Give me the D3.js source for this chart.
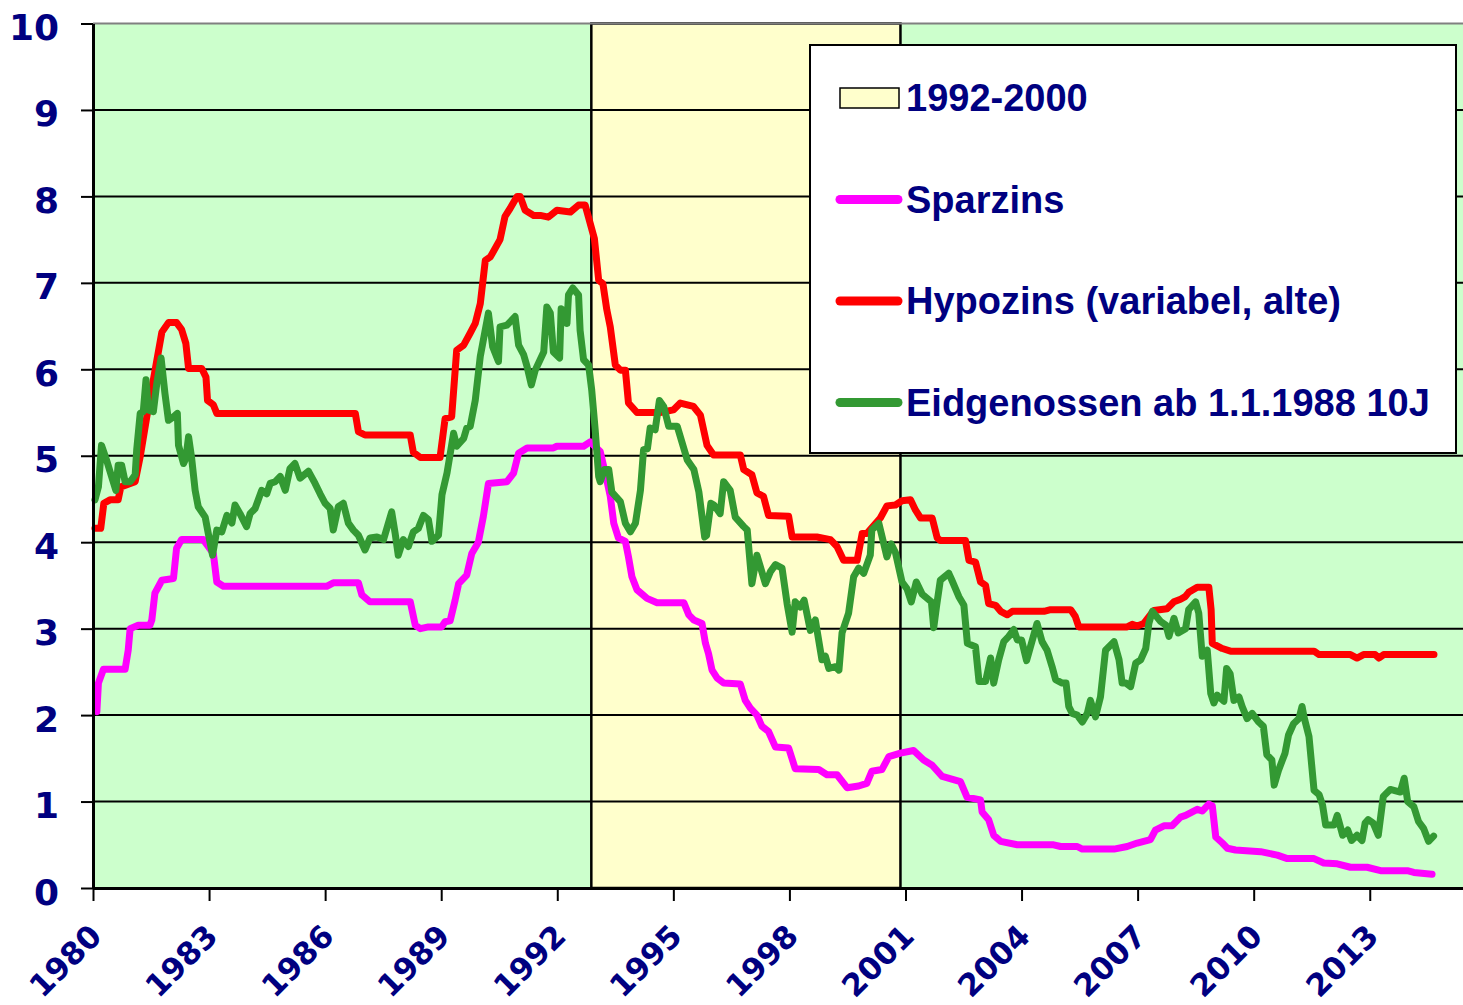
<!DOCTYPE html>
<html>
<head>
<meta charset="utf-8">
<script src="https://cdn.jsdelivr.net/npm/d3@7"></script>
<style>
  body { margin: 0; background: #fff; }
  svg { display: block; }
</style>
</head>
<body>
<div class="svg-container"></div>
<script>
// series values: [year, percent]
const sparzins = [
  [1980.1,2.04],[1980.14,2.37],[1980.27,2.53],[1980.83,2.53],[1980.91,2.75],[1980.96,3.0],[1981.17,3.04],[1981.47,3.04],
  [1981.52,3.10],[1981.6,3.41],[1981.78,3.56],[1982.08,3.58],[1982.16,3.93],[1982.29,4.03],[1982.85,4.03],[1983.11,3.87],
  [1983.2,3.54],[1983.37,3.49],[1986.04,3.49],[1986.21,3.53],[1986.86,3.53],[1986.95,3.39],[1987.16,3.31],[1988.2,3.31],
  [1988.33,3.04],[1988.46,3.0],[1988.67,3.02],[1989.01,3.02],[1989.1,3.08],[1989.23,3.09],[1989.36,3.33],[1989.45,3.52],
  [1989.66,3.62],[1989.79,3.87],[1989.96,4.0],[1990.09,4.30],[1990.22,4.68],[1990.7,4.70],[1990.87,4.80],[1991.0,5.03],
  [1991.22,5.09],[1991.9,5.09],[1991.99,5.11],[1992.68,5.11],[1992.85,5.16],[1993.11,5.05],[1993.24,4.80],[1993.37,4.53],
  [1993.46,4.22],[1993.58,4.05],[1993.76,4.01],[1993.84,3.83],[1993.93,3.60],[1994.06,3.45],[1994.32,3.35],[1994.58,3.30],
  [1995.27,3.30],[1995.4,3.16],[1995.53,3.10],[1995.74,3.06],[1995.83,2.83],[1995.91,2.71],[1996.0,2.52],[1996.13,2.43],
  [1996.3,2.37],[1996.73,2.36],[1996.86,2.17],[1996.99,2.08],[1997.16,2.0],[1997.29,1.87],[1997.46,1.81],[1997.64,1.63],
  [1997.98,1.62],[1998.15,1.38],[1998.76,1.37],[1998.97,1.31],[1999.23,1.31],[1999.49,1.16],[1999.79,1.18],[2000.0,1.21],
  [2000.13,1.35],[2000.39,1.37],[2000.57,1.52],[2000.87,1.56],[2001.21,1.59],[2001.47,1.48],[2001.69,1.42],[2001.95,1.29],
  [2002.42,1.23],[2002.59,1.05],[2002.94,1.02],[2002.98,0.88],[2003.15,0.79],[2003.28,0.61],[2003.46,0.54],[2003.89,0.50],
  [2004.83,0.50],[2005.01,0.48],[2005.44,0.48],[2005.57,0.45],[2006.39,0.45],[2006.73,0.48],[2006.99,0.52],[2007.33,0.56],
  [2007.46,0.67],[2007.68,0.72],[2007.89,0.72],[2008.11,0.82],[2008.24,0.84],[2008.54,0.91],[2008.67,0.89],[2008.84,0.97],
  [2008.93,0.95],[2009.02,0.59],[2009.19,0.52],[2009.32,0.46],[2009.53,0.44],[2010.18,0.42],[2010.61,0.38],[2010.87,0.34],
  [2011.56,0.34],[2011.81,0.29],[2012.16,0.28],[2012.5,0.24],[2012.93,0.24],[2013.28,0.20],[2013.97,0.20],[2014.14,0.18],
  [2014.61,0.16]
];

const hypozins = [
  [1980.05,4.16],[1980.2,4.16],[1980.28,4.45],[1980.44,4.49],[1980.65,4.49],[1980.72,4.64],[1981.09,4.70],[1981.22,4.99],
  [1981.39,5.45],[1981.78,6.43],[1981.95,6.54],[1982.16,6.54],[1982.29,6.46],[1982.4,6.3],[1982.47,6.01],[1982.81,6.01],
  [1982.92,5.91],[1982.96,5.64],[1983.11,5.59],[1983.2,5.49],[1986.78,5.49],[1986.86,5.28],[1987.03,5.24],[1988.2,5.24],
  [1988.28,5.04],[1988.46,4.98],[1988.97,4.98],[1989.1,5.43],[1989.27,5.45],[1989.4,6.22],[1989.58,6.28],[1989.75,6.42],
  [1989.88,6.53],[1990.01,6.76],[1990.14,7.26],[1990.27,7.30],[1990.52,7.50],[1990.65,7.77],[1990.78,7.86],[1990.96,8.0],
  [1991.04,8.0],[1991.17,7.84],[1991.39,7.78],[1991.56,7.78],[1991.77,7.76],[1991.99,7.84],[1992.34,7.82],[1992.55,7.90],
  [1992.72,7.90],[1992.85,7.69],[1992.96,7.51],[1993.07,7.03],[1993.18,6.99],[1993.28,6.69],[1993.37,6.49],[1993.5,6.05],
  [1993.63,5.99],[1993.76,5.99],[1993.84,5.61],[1994.06,5.50],[1994.66,5.50],[1995.0,5.53],[1995.18,5.61],[1995.52,5.57],
  [1995.7,5.47],[1995.87,5.12],[1996.04,5.01],[1996.73,5.01],[1996.82,4.84],[1997.03,4.78],[1997.16,4.57],[1997.33,4.53],
  [1997.46,4.31],[1997.98,4.30],[1998.07,4.06],[1998.71,4.06],[1999.06,4.03],[1999.23,3.95],[1999.4,3.79],[1999.75,3.79],
  [1999.88,4.10],[2000.0,4.10],[2000.35,4.28],[2000.52,4.42],[2000.74,4.43],[2000.91,4.48],[2001.13,4.49],[2001.26,4.37],
  [2001.39,4.28],[2001.69,4.28],[2001.82,4.05],[2001.9,4.02],[2002.55,4.02],[2002.64,3.79],[2002.81,3.77],[2002.94,3.54],
  [2003.07,3.50],[2003.15,3.29],[2003.33,3.27],[2003.46,3.20],[2003.63,3.16],[2003.76,3.20],[2004.58,3.20],[2004.75,3.22],
  [2005.27,3.22],[2005.39,3.14],[2005.48,3.02],[2006.73,3.02],[2006.86,3.05],[2006.99,3.03],[2007.16,3.06],[2007.42,3.21],
  [2007.76,3.23],[2007.94,3.31],[2008.11,3.34],[2008.23,3.37],[2008.32,3.42],[2008.54,3.48],[2008.84,3.48],[2008.9,3.22],
  [2008.93,2.83],[2009.19,2.77],[2009.4,2.74],[2011.56,2.74],[2011.69,2.70],[2012.5,2.70],[2012.67,2.66],[2012.84,2.70],
  [2013.14,2.70],[2013.24,2.66],[2013.36,2.70],[2014.66,2.70]
];

const eidgenossen = [
  [1980.05,4.49],[1980.14,4.64],[1980.22,5.12],[1980.35,4.95],[1980.48,4.76],[1980.59,4.60],[1980.65,4.89],[1980.74,4.89],
  [1980.83,4.70],[1980.96,4.70],[1981.09,4.78],[1981.13,5.07],[1981.22,5.49],[1981.3,5.51],[1981.37,5.88],[1981.43,5.53],
  [1981.56,5.51],[1981.65,5.84],[1981.76,6.13],[1981.86,5.72],[1981.95,5.41],[1982.08,5.45],[1982.18,5.49],[1982.21,5.12],
  [1982.34,4.91],[1982.4,4.97],[1982.47,5.22],[1982.55,4.97],[1982.64,4.60],[1982.72,4.41],[1982.9,4.29],[1982.98,4.10],
  [1983.09,3.85],[1983.2,4.14],[1983.33,4.12],[1983.46,4.31],[1983.59,4.22],[1983.67,4.43],[1983.8,4.33],[1983.97,4.18],
  [1984.06,4.33],[1984.19,4.39],[1984.36,4.60],[1984.49,4.56],[1984.58,4.68],[1984.71,4.70],[1984.84,4.76],[1984.97,4.60],
  [1985.09,4.85],[1985.22,4.91],[1985.35,4.74],[1985.57,4.82],[1985.74,4.68],[1985.87,4.56],[1986.0,4.45],[1986.13,4.39],
  [1986.21,4.14],[1986.34,4.41],[1986.47,4.45],[1986.6,4.22],[1986.73,4.14],[1986.86,4.08],[1987.03,3.91],[1987.16,4.05],
  [1987.34,4.06],[1987.51,4.03],[1987.72,4.35],[1987.81,4.10],[1987.89,3.85],[1988.02,4.03],[1988.15,3.95],[1988.28,4.12],
  [1988.41,4.16],[1988.54,4.31],[1988.67,4.26],[1988.76,4.01],[1988.93,4.08],[1989.02,4.55],[1989.15,4.80],[1989.32,5.26],
  [1989.4,5.11],[1989.58,5.20],[1989.66,5.32],[1989.75,5.34],[1989.88,5.64],[1990.01,6.15],[1990.22,6.65],[1990.33,6.26],
  [1990.48,6.09],[1990.52,6.49],[1990.7,6.51],[1990.91,6.61],[1991.0,6.28],[1991.13,6.17],[1991.22,6.03],[1991.33,5.82],
  [1991.43,5.99],[1991.65,6.20],[1991.73,6.72],[1991.82,6.65],[1991.9,6.20],[1992.06,6.13],[1992.1,6.70],[1992.16,6.68],
  [1992.25,6.53],[1992.29,6.86],[1992.4,6.94],[1992.55,6.86],[1992.59,6.45],[1992.68,6.11],[1992.81,6.05],[1992.89,5.76],
  [1992.98,5.30],[1993.07,4.76],[1993.11,4.70],[1993.22,4.84],[1993.33,4.84],[1993.41,4.58],[1993.63,4.47],[1993.76,4.22],
  [1993.89,4.12],[1994.02,4.22],[1994.15,4.60],[1994.23,5.07],[1994.33,5.08],[1994.4,5.32],[1994.53,5.30],[1994.64,5.64],
  [1994.75,5.57],[1994.88,5.34],[1995.1,5.34],[1995.36,4.95],[1995.53,4.84],[1995.66,4.58],[1995.81,4.06],[1995.86,4.08],
  [1995.97,4.45],[1996.05,4.43],[1996.21,4.33],[1996.3,4.70],[1996.47,4.60],[1996.6,4.29],[1996.82,4.18],[1996.91,4.14],
  [1997.03,3.52],[1997.16,3.85],[1997.38,3.52],[1997.51,3.66],[1997.64,3.74],[1997.81,3.70],[1997.94,3.29],[1998.07,2.96],
  [1998.15,3.31],[1998.28,3.25],[1998.38,3.33],[1998.54,2.98],[1998.67,3.10],[1998.84,2.64],[1998.93,2.68],[1999.02,2.54],
  [1999.19,2.56],[1999.28,2.52],[1999.36,2.95],[1999.53,3.18],[1999.66,3.60],[1999.79,3.70],[1999.92,3.64],[2000.09,3.85],
  [2000.13,4.14],[2000.31,4.22],[2000.44,3.98],[2000.52,3.83],[2000.63,3.98],[2000.74,3.88],[2000.91,3.54],[2001.04,3.46],
  [2001.15,3.31],[2001.28,3.54],[2001.43,3.40],[2001.67,3.31],[2001.73,3.01],[2001.8,3.25],[2001.9,3.56],[2002.12,3.64],
  [2002.2,3.56],[2002.38,3.37],[2002.51,3.27],[2002.6,2.83],[2002.81,2.79],[2002.9,2.39],[2003.07,2.39],[2003.2,2.66],
  [2003.28,2.37],[2003.41,2.64],[2003.54,2.85],[2003.67,2.91],[2003.8,2.99],[2003.89,2.87],[2004.0,2.87],[2004.13,2.63],
  [2004.23,2.79],[2004.4,3.06],[2004.53,2.85],[2004.66,2.75],[2004.79,2.56],[2004.88,2.41],[2005.05,2.37],[2005.15,2.37],
  [2005.22,2.10],[2005.31,2.02],[2005.44,2.00],[2005.57,1.92],[2005.7,2.02],[2005.78,2.17],[2005.91,1.98],[2006.04,2.21],
  [2006.17,2.75],[2006.39,2.85],[2006.52,2.64],[2006.6,2.37],[2006.7,2.37],[2006.82,2.33],[2006.95,2.60],[2007.08,2.64],
  [2007.21,2.77],[2007.29,3.06],[2007.38,3.20],[2007.6,3.08],[2007.73,3.04],[2007.81,2.91],[2007.94,3.12],[2008.05,2.95],
  [2008.24,3.0],[2008.32,3.22],[2008.5,3.31],[2008.58,3.18],[2008.67,2.68],[2008.8,2.75],[2008.89,2.25],[2008.97,2.14],
  [2009.06,2.23],[2009.23,2.16],[2009.3,2.54],[2009.39,2.48],[2009.49,2.17],[2009.62,2.21],[2009.7,2.10],[2009.83,1.96],
  [2009.96,2.02],[2010.13,1.92],[2010.25,1.87],[2010.34,1.54],[2010.47,1.48],[2010.53,1.19],[2010.64,1.36],[2010.81,1.56],
  [2010.9,1.77],[2011.03,1.90],[2011.17,1.96],[2011.25,2.10],[2011.3,1.98],[2011.43,1.75],[2011.56,1.13],[2011.69,1.08],
  [2011.78,0.96],[2011.86,0.73],[2012.08,0.73],[2012.16,0.84],[2012.3,0.61],[2012.43,0.67],[2012.53,0.55],[2012.67,0.61],
  [2012.8,0.55],[2012.88,0.75],[2012.96,0.79],[2013.09,0.75],[2013.22,0.61],[2013.35,1.06],[2013.53,1.14],[2013.79,1.11],
  [2013.89,1.27],[2013.98,1.0],[2014.14,0.94],[2014.26,0.77],[2014.39,0.69],[2014.52,0.54],[2014.65,0.60]
];

// shaded period (start, end in years)
const period = [1992.88, 2000.87];

const yTicks = [0, 1, 2, 3, 4, 5, 6, 7, 8, 9, 10];
const xTicks = [1980, 1983, 1986, 1989, 1992, 1995, 1998, 2001, 2004, 2007, 2010, 2013];
const legendLabels = ['1992-2000', 'Sparzins', 'Hypozins (variabel, alte)', 'Eidgenossen ab 1.1.1988 10J'];

const renderChart = () => {
  // set up required dimensions
  const width = 1463;
  const height = 1005;
  const plot = { left: 93, right: 1463, top: 23.5, bottom: 888 };
  const navy = '#000080';
  const axisFont = '"DejaVu Sans", Verdana, sans-serif';
  const legendFont = '"Liberation Sans", Arial, sans-serif';

  const svg = d3.select('.svg-container')
    .append('svg')
    .attr('width', width)
    .attr('height', height);

  const x = d3.scaleLinear().domain([1980, 2015.41]).range([plot.left, plot.right]);
  const y = d3.scaleLinear().domain([0, 10]).range([plot.bottom, plot.top]);

  // plot background
  svg.append('rect')
    .attr('x', plot.left).attr('y', plot.top)
    .attr('width', plot.right - plot.left).attr('height', plot.bottom - plot.top)
    .attr('fill', '#ccffcc');

  // 1992-2000 band
  svg.append('rect')
    .attr('x', x(period[0])).attr('y', y(10))
    .attr('width', x(period[1]) - x(period[0])).attr('height', y(0) - y(10))
    .attr('fill', '#ffffcc')
    .attr('stroke', '#000')
    .attr('stroke-width', 2.5);

  // horizontal grid
  svg.append('g')
    .selectAll('line')
    .data(yTicks.filter(d => d > 0))
    .enter()
    .append('line')
    .attr('x1', plot.left).attr('x2', plot.right)
    .attr('y1', d => y(d)).attr('y2', d => y(d))
    .attr('stroke', d => d === 10 ? '#808080' : '#000')
    .attr('stroke-width', 2);

  // lines, in the original series order
  const line = d3.line().x(d => x(d[0])).y(d => y(d[1]));
  const series = [
    { values: sparzins, color: '#ff00ff' },
    { values: hypozins, color: '#ff0000' },
    { values: eidgenossen, color: '#339933' }
  ];
  svg.append('g')
    .selectAll('path')
    .data(series)
    .enter()
    .append('path')
    .attr('d', d => line(d.values))
    .attr('fill', 'none')
    .attr('stroke', d => d.color)
    .attr('stroke-width', 7)
    .attr('stroke-linejoin', 'round')
    .attr('stroke-linecap', 'round');

  // y axis
  const yAxis = svg.append('g')
    .attr('transform', `translate(${plot.left},0)`)
    .call(d3.axisLeft(y).tickValues(yTicks).tickSize(12).tickSizeOuter(0).tickPadding(22));
  yAxis.select('.domain').attr('stroke', '#000').attr('stroke-width', 3);
  yAxis.selectAll('.tick line').attr('stroke', '#000').attr('stroke-width', 2);
  yAxis.selectAll('.tick text')
    .attr('dy', '16px')
    .attr('fill', navy)
    .style('font-family', axisFont)
    .style('font-weight', 'bold')
    .style('font-size', '36px');

  // x axis, labels slanted up to the right
  const xAxis = svg.append('g')
    .attr('transform', `translate(0,${plot.bottom})`)
    .call(d3.axisBottom(x).tickValues(xTicks).tickSize(13).tickSizeOuter(0).tickFormat(d3.format('d')));
  xAxis.select('.domain').attr('stroke', '#000').attr('stroke-width', 3);
  xAxis.selectAll('.tick line').attr('stroke', '#000').attr('stroke-width', 2);
  xAxis.selectAll('.tick text')
    .attr('x', 0).attr('y', 0).attr('dy', 0)
    .attr('text-anchor', 'end')
    .attr('transform', 'translate(10,50) rotate(-45)')
    .attr('fill', navy)
    .style('font-family', axisFont)
    .style('font-weight', 'bold')
    .style('font-size', '31px');

  // legend
  const legend = svg.append('g');
  legend.append('rect')
    .attr('x', 810).attr('y', 45)
    .attr('width', 646).attr('height', 408)
    .attr('fill', '#fff')
    .attr('stroke', '#000')
    .attr('stroke-width', 2);

  const items = legend.selectAll('g.item')
    .data(legendLabels)
    .enter()
    .append('g')
    .attr('class', 'item')
    .attr('transform', (d, i) => `translate(0,${98 + i * 101.5})`);

  items.filter((d, i) => i === 0)
    .append('rect')
    .attr('x', 840).attr('y', -10)
    .attr('width', 59).attr('height', 20)
    .attr('fill', '#ffffcc')
    .attr('stroke', '#000')
    .attr('stroke-width', 1.5);

  items.filter((d, i) => i > 0)
    .append('line')
    .attr('x1', 840).attr('x2', 898)
    .attr('y1', 0).attr('y2', 0)
    .attr('stroke', (d, i) => series[i].color)
    .attr('stroke-width', 9)
    .attr('stroke-linecap', 'round');

  items.append('text')
    .attr('x', 906).attr('y', 13)
    .attr('fill', navy)
    .style('font-family', legendFont)
    .style('font-weight', 'bold')
    .style('font-size', '38px')
    .text(d => d);
};

renderChart();
</script>
</body>
</html>
